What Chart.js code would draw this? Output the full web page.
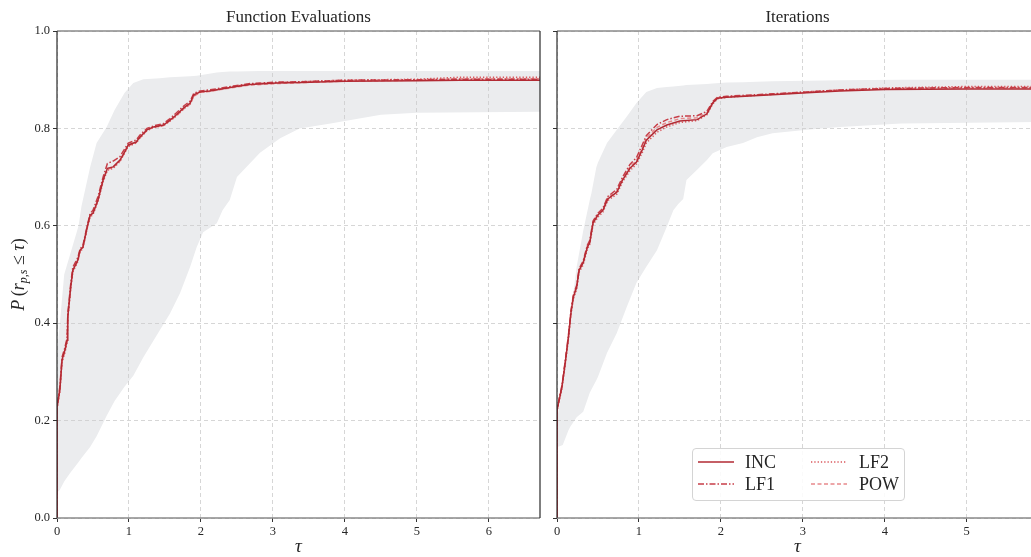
<!DOCTYPE html>
<html><head><meta charset="utf-8">
<script src="https://cdn.jsdelivr.net/npm/chart.js@4.4.1/dist/chart.umd.min.js"></script>
<style>
html,body{margin:0;padding:0;overflow:hidden;background:#fff;width:1031px;height:557px;position:relative;}
#c1{position:absolute;left:0;top:0;}
#c2{position:absolute;left:548px;top:0;}
#legend{position:absolute;left:692px;top:448px;width:211px;height:51px;border:1px solid #d4d4d4;border-radius:4px;background:rgba(255,255,255,0.88);font-family:'Liberation Serif','DejaVu Serif',serif;font-size:18px;color:#262626;}
.it{position:absolute;height:22px;line-height:22px;}
.it svg{position:absolute;top:0;}
.it span{position:absolute;white-space:nowrap;}
</style></head><body>
<canvas id="c1" width="548" height="557"></canvas>
<canvas id="c2" width="490" height="557"></canvas>
<div id="legend"></div>
<script>
// ---------------- DATA ----------------
const seriesNames = ['INC', 'LF1', 'LF2', 'POW'];
const yTickStep = 0.2;

// Function Evaluations panel
const fevTau = [0, 0.001, 0.04, 0.07, 0.11, 0.14, 0.15, 0.19, 0.22, 0.29, 0.32, 0.36, 0.42, 0.46, 0.5, 0.57, 0.64, 0.7, 0.78, 0.875, 0.94, 0.99, 1.1, 1.15, 1.25, 1.34, 1.48, 1.57, 1.66, 1.76, 1.85, 1.9, 1.99, 2.12, 2.45, 2.68, 3.05, 3.4, 4.0, 5.0, 5.6, 6.0, 6.71];
const fevINC = [0, 0.228, 0.263, 0.325, 0.345, 0.365, 0.413, 0.474, 0.509, 0.53, 0.55, 0.556, 0.598, 0.622, 0.626, 0.653, 0.694, 0.718, 0.721, 0.735, 0.752, 0.766, 0.772, 0.782, 0.797, 0.803, 0.807, 0.817, 0.828, 0.842, 0.852, 0.869, 0.875, 0.877, 0.885, 0.89, 0.893, 0.894, 0.897, 0.898, 0.899, 0.899, 0.899];
const fevLF1 = [0, 0.23, 0.27, 0.33, 0.35, 0.37, 0.42, 0.48, 0.515, 0.535, 0.552, 0.56, 0.6, 0.625, 0.632, 0.66, 0.7, 0.728, 0.733, 0.742, 0.758, 0.77, 0.776, 0.786, 0.8, 0.805, 0.81, 0.82, 0.832, 0.846, 0.856, 0.872, 0.877, 0.879, 0.887, 0.892, 0.895, 0.896, 0.899, 0.9, 0.901, 0.901, 0.901];
const fevLF2 = [0, 0.225, 0.26, 0.32, 0.34, 0.36, 0.41, 0.47, 0.505, 0.527, 0.547, 0.553, 0.595, 0.618, 0.623, 0.65, 0.69, 0.714, 0.718, 0.732, 0.75, 0.763, 0.77, 0.78, 0.795, 0.802, 0.806, 0.815, 0.826, 0.84, 0.85, 0.867, 0.874, 0.877, 0.886, 0.891, 0.894, 0.896, 0.899, 0.901, 0.905, 0.905, 0.905];
const fevPOW = [0, 0.226, 0.265, 0.322, 0.343, 0.362, 0.41, 0.472, 0.507, 0.528, 0.548, 0.555, 0.596, 0.62, 0.628, 0.655, 0.692, 0.716, 0.72, 0.733, 0.75, 0.764, 0.771, 0.78, 0.796, 0.802, 0.806, 0.816, 0.826, 0.84, 0.85, 0.866, 0.874, 0.876, 0.884, 0.889, 0.892, 0.894, 0.897, 0.899, 0.902, 0.902, 0.902];
const fevBandTau = [0, 0.02, 0.04, 0.1, 0.18, 0.3, 0.34, 0.46, 0.55, 0.69, 0.8, 0.94, 1.06, 1.2, 1.43, 1.57, 1.71, 1.85, 1.94, 2.03, 2.22, 2.3, 2.4, 2.5, 2.82, 3.1, 3.37, 3.8, 4.5, 5.0, 6.71];
const fevBandHigh = [0.3, 0.37, 0.4, 0.5, 0.54, 0.6, 0.64, 0.72, 0.77, 0.803, 0.838, 0.873, 0.893, 0.901, 0.903, 0.905, 0.906, 0.907, 0.908, 0.91, 0.915, 0.916, 0.917, 0.917, 0.918, 0.918, 0.918, 0.918, 0.918, 0.918, 0.918];
const fevBandLow = [0.053, 0.055, 0.058, 0.075, 0.092, 0.115, 0.123, 0.146, 0.168, 0.21, 0.24, 0.27, 0.292, 0.33, 0.386, 0.42, 0.462, 0.516, 0.556, 0.587, 0.605, 0.632, 0.653, 0.7, 0.75, 0.78, 0.8, 0.81, 0.828, 0.832, 0.834];

// Iterations panel
const itTau = [0, 0.001, 0.06, 0.1, 0.14, 0.17, 0.2, 0.24, 0.27, 0.32, 0.37, 0.4, 0.44, 0.5, 0.56, 0.62, 0.73, 0.8, 0.89, 0.97, 1.04, 1.09, 1.22, 1.34, 1.5, 1.71, 1.83, 1.9, 1.96, 2.07, 2.63, 3.05, 3.45, 4.0, 5.0, 5.87];
const itINC = [0, 0.222, 0.269, 0.318, 0.372, 0.421, 0.454, 0.474, 0.509, 0.524, 0.556, 0.565, 0.606, 0.622, 0.632, 0.655, 0.669, 0.694, 0.718, 0.731, 0.756, 0.776, 0.797, 0.807, 0.815, 0.818, 0.83, 0.852, 0.862, 0.864, 0.869, 0.873, 0.877, 0.88, 0.881, 0.881];
const itLF1 = [0, 0.224, 0.272, 0.322, 0.376, 0.425, 0.458, 0.478, 0.512, 0.528, 0.56, 0.57, 0.61, 0.626, 0.636, 0.66, 0.675, 0.7, 0.726, 0.74, 0.766, 0.785, 0.808, 0.818, 0.825, 0.826, 0.835, 0.855, 0.864, 0.866, 0.871, 0.875, 0.879, 0.882, 0.884, 0.884];
const itLF2 = [0, 0.22, 0.266, 0.315, 0.368, 0.418, 0.45, 0.47, 0.505, 0.52, 0.552, 0.562, 0.602, 0.618, 0.628, 0.652, 0.665, 0.69, 0.713, 0.727, 0.75, 0.77, 0.792, 0.803, 0.812, 0.816, 0.828, 0.85, 0.861, 0.864, 0.87, 0.875, 0.879, 0.883, 0.886, 0.886];
const itPOW = [0, 0.223, 0.27, 0.32, 0.374, 0.423, 0.456, 0.476, 0.51, 0.526, 0.558, 0.567, 0.608, 0.624, 0.634, 0.657, 0.671, 0.696, 0.721, 0.734, 0.76, 0.78, 0.802, 0.812, 0.82, 0.822, 0.832, 0.853, 0.863, 0.865, 0.87, 0.874, 0.878, 0.881, 0.883, 0.883];
const itBandTau = [0, 0.04, 0.07, 0.14, 0.16, 0.24, 0.32, 0.4, 0.42, 0.48, 0.5, 0.61, 0.73, 0.85, 0.97, 1.09, 1.22, 1.34, 1.42, 1.48, 1.54, 1.58, 1.71, 1.83, 1.9, 2.07, 2.27, 2.44, 2.63, 3.05, 3.45, 4.2, 5.87];
const itBandHigh = [0.2, 0.242, 0.29, 0.38, 0.41, 0.516, 0.59, 0.653, 0.667, 0.72, 0.73, 0.77, 0.797, 0.824, 0.852, 0.875, 0.883, 0.885, 0.886, 0.887, 0.888, 0.889, 0.89, 0.891, 0.892, 0.894, 0.895, 0.896, 0.897, 0.898, 0.899, 0.9, 0.9];
const itBandLow = [0.146, 0.148, 0.15, 0.18, 0.187, 0.207, 0.218, 0.257, 0.264, 0.283, 0.29, 0.339, 0.38, 0.433, 0.483, 0.516, 0.55, 0.598, 0.632, 0.645, 0.655, 0.694, 0.715, 0.735, 0.749, 0.762, 0.77, 0.782, 0.79, 0.797, 0.803, 0.81, 0.813];

// ---------------- STYLE ----------------
const SERIF = "'Liberation Serif','DejaVu Serif',serif";
const TXT = '#262626';
const styles = {
  INC: {color: '#b22a33', dash: []},
  LF1: {color: '#c73e48', dash: [6, 2, 1.5, 2]},
  LF2: {color: '#d9575c', dash: [1.3, 2]},
  POW: {color: '#e8898c', dash: [4, 2.5]}
};
const BAND = '#ebecee';

function pts(xs, ys) { return xs.map((x, i) => ({x: x, y: ys[i]})); }

const decor = {
  id: 'decor',
  afterDraw(chart, args, o) {
    const ctx = chart.ctx, a = chart.chartArea;
    ctx.save();
    // spines
    ctx.strokeStyle = '#8a8a8a'; ctx.lineWidth = 1.5;
    ctx.beginPath(); ctx.moveTo(a.left, a.top); ctx.lineTo(a.right, a.top);
    ctx.moveTo(a.left, a.bottom); ctx.lineTo(a.right, a.bottom); ctx.stroke();
    ctx.strokeStyle = '#2b2b2b'; ctx.lineWidth = 1.2;
    ctx.beginPath(); ctx.moveTo(a.left, a.top); ctx.lineTo(a.left, a.bottom);
    if (o.rightSpine) { ctx.moveTo(a.right, a.top); ctx.lineTo(a.right, a.bottom); }
    ctx.stroke();
    // title
    const cx = o.titleX != null ? o.titleX : (a.left + a.right) / 2;
    ctx.fillStyle = TXT;
    ctx.textAlign = 'center'; ctx.textBaseline = 'middle';
    ctx.font = '17px ' + SERIF;
    ctx.fillText(o.title, cx, 18);
    // x label
    ctx.font = 'italic 19px ' + SERIF;
    ctx.fillText('\u03C4', cx, 547);
    // y label
    if (o.ylabel) {
      ctx.translate(18, (a.top + a.bottom) / 2);
      ctx.rotate(-Math.PI / 2);
      const parts = [
        {t: 'P', f: 'italic 18px ', dy: 0},
        {t: '\u2009(', f: '18px ', dy: 0},
        {t: 'r', f: 'italic 18px ', dy: 0},
        {t: 'p,s', f: 'italic 12px ', dy: 3},
        {t: ' \u2264 ', f: '18px ', dy: 0},
        {t: '\u03C4', f: 'italic 18px ', dy: 0},
        {t: ')', f: '18px ', dy: 0}
      ];
      let total = 0;
      parts.forEach(p => { ctx.font = p.f + SERIF; p.w = ctx.measureText(p.t).width; total += p.w; });
      let x = -total / 2;
      ctx.textAlign = 'left'; ctx.textBaseline = 'alphabetic';
      parts.forEach(p => { ctx.font = p.f + SERIF; ctx.fillText(p.t, x, 6 + p.dy); x += p.w; });
    }
    ctx.restore();
  }
};

function makeChart(id, cfg) {
  const seriesData = cfg.series;
  const datasets = seriesNames.map(n => ({
    label: n,
    data: pts(cfg.tau, seriesData[n]),
    borderColor: styles[n].color,
    borderDash: styles[n].dash,
    borderWidth: 1.5,
    pointRadius: 0,
    tension: 0,
    fill: false
  }));
  datasets.push({label: 'bandLow', data: pts(cfg.bandTau, cfg.bandLow), borderColor: 'rgba(0,0,0,0)', borderWidth: 1, pointRadius: 0, fill: false});
  datasets.push({label: 'bandHigh', data: pts(cfg.bandTau, cfg.bandHigh), borderColor: 'rgba(0,0,0,0)', borderWidth: 1, pointRadius: 0, fill: '-1', backgroundColor: BAND});
  return new Chart(document.getElementById(id), {
    type: 'line',
    data: {datasets: datasets},
    plugins: [decor],
    options: {
      responsive: false,
      animation: false,
      devicePixelRatio: 1,
      layout: {padding: {top: 31, right: cfg.padRight, left: 0, bottom: 0}},
      plugins: {
        legend: {display: false},
        tooltip: {enabled: false},
        filler: {drawTime: 'beforeDraw'},
        decor: {title: cfg.title, ylabel: cfg.ylabel, rightSpine: cfg.rightSpine}
      },
      scales: {
        x: {
          type: 'linear', min: 0, max: cfg.xmax,
          afterBuildTicks: s => { s.ticks = s.ticks.filter(t => Math.abs(t.value - Math.round(t.value)) < 1e-9); },
          afterFit: s => { s.height = 39; },
          ticks: {stepSize: 1, color: TXT, font: {family: SERIF, size: 12.5}, padding: 2, maxRotation: 0, autoSkip: false, callback: v => String(v)},
          grid: {color: '#cccccc', lineWidth: 0.8, drawTicks: true, tickLength: 4, tickColor: '#333', tickWidth: 1, tickBorderDash: []},
          border: {display: false, dash: [4, 3]}
        },
        y: {
          type: 'linear', min: 0, max: 1,
          afterFit: s => { s.width = cfg.yWidth; },
          ticks: {stepSize: yTickStep, display: cfg.ylabel, color: TXT, font: {family: SERIF, size: 12.5}, padding: 3, callback: v => v.toFixed(1)},
          grid: {color: '#cccccc', lineWidth: 0.8, drawTicks: true, tickLength: 4, tickColor: '#333', tickWidth: 1, tickBorderDash: []},
          border: {display: false, dash: [4, 3]}
        }
      }
    }
  });
}

makeChart('c1', {
  title: 'Function Evaluations', ylabel: true, rightSpine: true,
  tau: fevTau, series: {INC: fevINC, LF1: fevLF1, LF2: fevLF2, POW: fevPOW},
  bandTau: fevBandTau, bandLow: fevBandLow, bandHigh: fevBandHigh,
  xmax: 6.71, yWidth: 57, padRight: 8
});
makeChart('c2', {
  title: 'Iterations', ylabel: false, rightSpine: false,
  tau: itTau, series: {INC: itINC, LF1: itLF1, LF2: itLF2, POW: itPOW},
  bandTau: itBandTau, bandLow: itBandLow, bandHigh: itBandHigh,
  xmax: 5.87, yWidth: 9, padRight: 0
});

// legend (HTML)
(function () {
  const lg = document.getElementById('legend');
  const cols = [{names: ['INC', 'LF1'], lx: 4, tx: 52}, {names: ['LF2', 'POW'], lx: 117, tx: 166}];
  cols.forEach(c => c.names.forEach((n, r) => {
    const d = document.createElement('div');
    d.className = 'it';
    d.style.left = '0px'; d.style.top = (2 + r * 22) + 'px';
    const s = styles[n];
    d.innerHTML = '<svg style="left:' + c.lx + 'px" width="38" height="22"><line x1="1" y1="11" x2="37" y2="11" stroke="' + s.color + '" stroke-width="1.6" stroke-dasharray="' + (s.dash.length ? s.dash.join(' ') : 'none') + '"/></svg>' +
      '<span style="left:' + c.tx + 'px">' + n + '</span>';
    lg.appendChild(d);
  }));
})();
</script>
</body></html>
